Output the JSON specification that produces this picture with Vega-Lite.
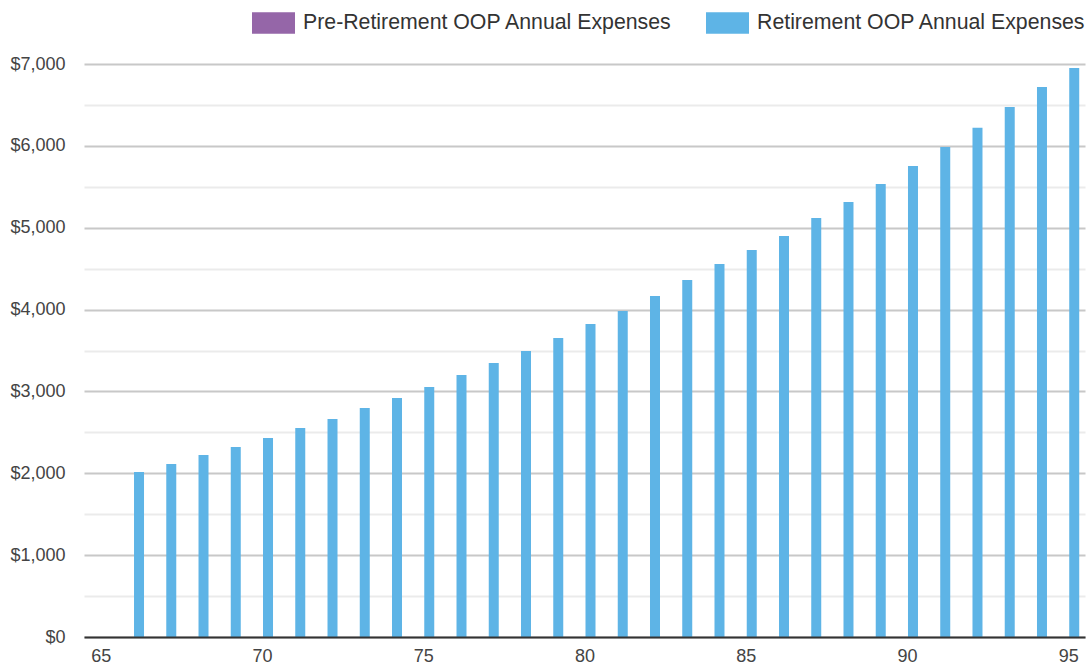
{
  "$schema": "https://vega.github.io/schema/vega-lite/v6.json",
  "width": 1001,
  "height": 573,
  "autosize": {"type": "none"},
  "padding": {"left": 84, "top": 64, "right": 6, "bottom": 34},
  "background": "white",
  "config": {
    "view": {"stroke": null},
    "font": "Liberation Sans"
  },
  "data": {
    "values": [
      {"age": 66, "expense": 2016, "series": "Retirement OOP Annual Expenses"},
      {"age": 67, "expense": 2113, "series": "Retirement OOP Annual Expenses"},
      {"age": 68, "expense": 2223, "series": "Retirement OOP Annual Expenses"},
      {"age": 69, "expense": 2321, "series": "Retirement OOP Annual Expenses"},
      {"age": 70, "expense": 2431, "series": "Retirement OOP Annual Expenses"},
      {"age": 71, "expense": 2553, "series": "Retirement OOP Annual Expenses"},
      {"age": 72, "expense": 2663, "series": "Retirement OOP Annual Expenses"},
      {"age": 73, "expense": 2797, "series": "Retirement OOP Annual Expenses"},
      {"age": 74, "expense": 2920, "series": "Retirement OOP Annual Expenses"},
      {"age": 75, "expense": 3054, "series": "Retirement OOP Annual Expenses"},
      {"age": 76, "expense": 3201, "series": "Retirement OOP Annual Expenses"},
      {"age": 77, "expense": 3347, "series": "Retirement OOP Annual Expenses"},
      {"age": 78, "expense": 3494, "series": "Retirement OOP Annual Expenses"},
      {"age": 79, "expense": 3653, "series": "Retirement OOP Annual Expenses"},
      {"age": 80, "expense": 3824, "series": "Retirement OOP Annual Expenses"},
      {"age": 81, "expense": 3982, "series": "Retirement OOP Annual Expenses"},
      {"age": 82, "expense": 4166, "series": "Retirement OOP Annual Expenses"},
      {"age": 83, "expense": 4361, "series": "Retirement OOP Annual Expenses"},
      {"age": 84, "expense": 4557, "series": "Retirement OOP Annual Expenses"},
      {"age": 85, "expense": 4728, "series": "Retirement OOP Annual Expenses"},
      {"age": 86, "expense": 4899, "series": "Retirement OOP Annual Expenses"},
      {"age": 87, "expense": 5118, "series": "Retirement OOP Annual Expenses"},
      {"age": 88, "expense": 5314, "series": "Retirement OOP Annual Expenses"},
      {"age": 89, "expense": 5534, "series": "Retirement OOP Annual Expenses"},
      {"age": 90, "expense": 5754, "series": "Retirement OOP Annual Expenses"},
      {"age": 91, "expense": 5986, "series": "Retirement OOP Annual Expenses"},
      {"age": 92, "expense": 6222, "series": "Retirement OOP Annual Expenses"},
      {"age": 93, "expense": 6474, "series": "Retirement OOP Annual Expenses"},
      {"age": 94, "expense": 6719, "series": "Retirement OOP Annual Expenses"},
      {"age": 95, "expense": 6951, "series": "Retirement OOP Annual Expenses"}
    ]
  },
  "mark": {"type": "bar", "width": 10, "xOffset": 6},
  "encoding": {
    "x": {
      "field": "age",
      "type": "quantitative",
      "scale": {"domain": [64.48, 95.52], "nice": false, "zero": false, "padding": 0},
      "axis": {
        "title": null,
        "values": [65, 70, 75, 80, 85, 90, 95],
        "grid": false,
        "ticks": false,
        "domainColor": "#333333",
        "domainWidth": 2,
        "labelFontSize": 18,
        "labelColor": "#444444",
        "labelPadding": 10,
        "labelFlush": false,
        "zindex": 1
      }
    },
    "y": {
      "field": "expense",
      "type": "quantitative",
      "scale": {"domain": [0, 7000], "nice": false},
      "axis": {
        "title": null,
        "values": [0, 500, 1000, 1500, 2000, 2500, 3000, 3500, 4000, 4500, 5000, 5500, 6000, 6500, 7000],
        "format": "$,.0f",
        "labelExpr": "datum.value % 1000 === 0 ? datum.label : ''",
        "domain": false,
        "ticks": false,
        "grid": true,
        "gridWidth": 2,
        "gridColor": {"condition": {"test": "datum.value % 1000 === 0", "value": "#c8c8c8"}, "value": "#ebebeb"},
        "labelFontSize": 18,
        "labelColor": "#444444",
        "labelPadding": 19,
        "zindex": 0
      }
    },
    "color": {
      "field": "series",
      "type": "nominal",
      "scale": {
        "domain": ["Pre-Retirement OOP Annual Expenses", "Retirement OOP Annual Expenses"],
        "range": ["#9566a8", "#5eb4e6"]
      },
      "legend": {
        "title": null,
        "orient": "none",
        "direction": "horizontal",
        "legendX": 168,
        "legendY": -63,
        "padding": 0,
        "symbolType": "M-1,-0.5H1V0.5H-1Z",
        "symbolSize": 1849,
        "symbolStrokeWidth": 0,
        "symbolOpacity": 1,
        "labelFontSize": 21.3,
        "labelColor": "#333333",
        "labelOffset": 8,
        "labelLimit": 500,
        "columnPadding": 33
      }
    }
  }
}
